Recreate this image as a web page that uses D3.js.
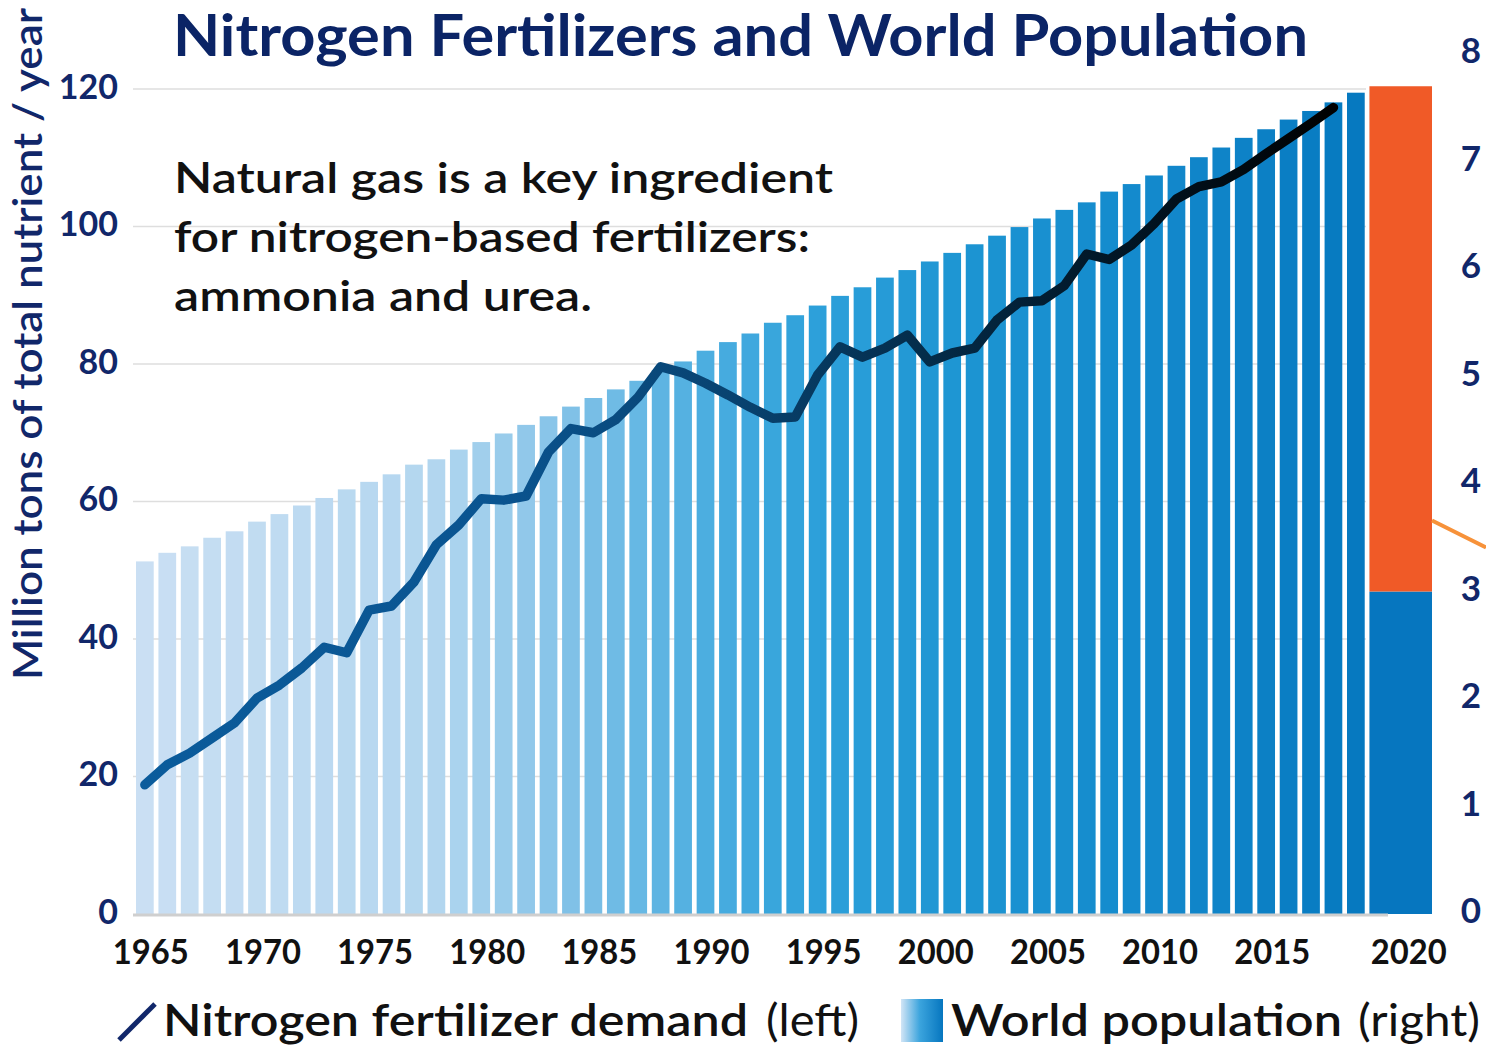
<!DOCTYPE html>
<html>
<head>
<meta charset="utf-8">
<script src="https://cdn.jsdelivr.net/npm/d3@7"></script>
<style>
  body { margin: 0; background: #fff; }
  svg { display: block; font-family: Lato, "Open Sans", sans-serif; }
</style>
</head>
<body>
<div id="chart"></div>
<script>
// ---- data ----
const years = d3.range(1965, 2020);
// world population, billions (right axis)
const population = [
  3.28, 3.36, 3.42, 3.50, 3.56, 3.65, 3.72, 3.80, 3.87, 3.95,
  4.02, 4.09, 4.18, 4.23, 4.32, 4.39, 4.47, 4.55, 4.63, 4.72,
  4.80, 4.88, 4.96, 5.06, 5.14, 5.24, 5.32, 5.40, 5.50, 5.57,
  5.66, 5.75, 5.83, 5.92, 5.99, 6.07, 6.15, 6.23, 6.31, 6.39,
  6.47, 6.55, 6.62, 6.72, 6.79, 6.87, 6.96, 7.04, 7.13, 7.22,
  7.30, 7.39, 7.47, 7.55, 7.64
];
// nitrogen fertilizer demand, million tons / year (left axis), 1965-2018
const demandYears = d3.range(1965, 2019);
const demand = [
  18.8, 21.7, 23.4, 25.6, 27.8, 31.4, 33.3, 35.8, 38.8, 38.0,
  44.2, 44.8, 48.3, 53.7, 56.6, 60.4, 60.2, 60.8, 67.2, 70.6,
  70.0, 71.9, 75.2, 79.6, 78.7, 77.2, 75.5, 73.7, 72.1, 72.3,
  78.4, 82.5, 81.0, 82.3, 84.2, 80.3, 81.6, 82.3, 86.4, 89.0,
  89.2, 91.4, 96.0, 95.2, 97.3, 100.4, 104.0, 105.8, 106.5, 108.3,
  110.6, 112.8, 115.0, 117.3
];
// 2020 bar: lower (blue) and upper (orange) part, billions
const pop2020Parts = [3.0, 4.7];
const calloutValue = 3.66;

const leftTicks = [0, 20, 40, 60, 80, 100, 120];
const rightTicks = [0, 1, 2, 3, 4, 5, 6, 7, 8];
const yearTicks = [1965, 1970, 1975, 1980, 1985, 1990, 1995, 2000, 2005, 2010, 2015, 2020];

const title = "Nitrogen Fertilizers and World Population";
const leftLabel = "Million tons of total nutrient / year";
const note = ["Natural gas is a key ingredient", "for nitrogen-based fertilizers:", "ammonia and urea."];

// ---- layout ----
const W = 1486, H = 1053;
const navy = "#11276a";

const svg = d3.select("#chart").append("svg")
  .attr("width", W)
  .attr("height", H);

const slots = d3.range(1965, 2023);
const x = d3.scaleBand()
  .domain(slots)
  .range([136, 1432])
  .paddingInner(0.21)
  .paddingOuter(0);

const yL = d3.scaleLinear().domain([0, 120]).range([914, 89]);
const yR = d3.scaleLinear().domain([0, 8]).range([914, 54]);

const barColor = d3.scaleLinear()
  .domain([1965, 1978, 1985, 1990, 1995, 2002, 2010, 2019])
  .range(["#cadff3", "#b2d6ef", "#78bee6", "#4caee0", "#2da0da", "#1c94d2", "#1389cc", "#0679c0"]);

const defs = svg.append("defs");

// fit a text to a target width
function fit(sel, width) {
  const w = sel.node().getComputedTextLength();
  if (Math.abs(w - width) > 2) {
    sel.attr("textLength", width).attr("lengthAdjust", "spacingAndGlyphs");
  }
}

// gridlines
svg.append("g")
  .selectAll("line")
  .data(leftTicks.filter(d => d > 0))
  .enter().append("line")
  .attr("x1", 133)
  .attr("x2", 1366)
  .attr("y1", d => yL(d))
  .attr("y2", d => yL(d))
  .style("stroke", "#dedede")
  .style("stroke-width", 1.5);

// population bars
svg.append("g")
  .selectAll("rect")
  .data(years)
  .enter().append("rect")
  .attr("x", d => x(d))
  .attr("width", x.bandwidth())
  .attr("y", (d, i) => yR(population[i]))
  .attr("height", (d, i) => yR(0) - yR(population[i]))
  .style("fill", d => barColor(d));

// 2020 bar
const x20 = x(2020), w20 = x(2022) + x.bandwidth() - x(2020);
svg.append("rect")
  .attr("x", x20)
  .attr("width", w20)
  .attr("y", yR(pop2020Parts[0]))
  .attr("height", yR(0) - yR(pop2020Parts[0]))
  .style("fill", "#0676bf");
svg.append("rect")
  .attr("x", x20)
  .attr("width", w20)
  .attr("y", yR(pop2020Parts[0] + pop2020Parts[1]))
  .attr("height", yR(pop2020Parts[0]) - yR(pop2020Parts[0] + pop2020Parts[1]))
  .style("fill", "#f05a27");

// callout line leaving to the right
svg.append("line")
  .attr("x1", x20 + w20)
  .attr("y1", yR(calloutValue))
  .attr("x2", W)
  .attr("y2", yR(calloutValue) + (W - x20 - w20) * 0.5)
  .style("stroke", "#f7923a")
  .style("stroke-width", 4);

// baseline
svg.append("line")
  .attr("x1", 133)
  .attr("x2", 1388)
  .attr("y1", yL(0) + 1)
  .attr("y2", yL(0) + 1)
  .style("stroke", "#cfcfcf")
  .style("stroke-width", 3);

// demand line with blue -> black gradient
const lineGrad = defs.append("linearGradient")
  .attr("id", "lineGrad")
  .attr("gradientUnits", "userSpaceOnUse")
  .attr("x1", x(1965)).attr("x2", x(2018) + x.bandwidth())
  .attr("y1", 0).attr("y2", 0);
[["0%", "#0b5c9c"], ["30%", "#0a5490"], ["50%", "#08426f"], ["65%", "#042d4b"], ["78%", "#021a2c"], ["100%", "#000000"]]
  .forEach(([o, c]) => lineGrad.append("stop").attr("offset", o).attr("stop-color", c));

const line = d3.line()
  .x((d, i) => x(demandYears[i]) + x.bandwidth() / 2)
  .y(d => yL(d));

svg.append("path")
  .datum(demand)
  .attr("d", line)
  .style("fill", "none")
  .style("stroke", "url(#lineGrad)")
  .style("stroke-width", 9.5)
  .style("stroke-linejoin", "round")
  .style("stroke-linecap", "round");

// left tick labels
svg.append("g")
  .selectAll("text")
  .data(leftTicks)
  .enter().append("text")
  .attr("x", 118)
  .attr("y", d => yL(d) - 2)
  .attr("dy", "0.35em")
  .attr("text-anchor", "end")
  .style("font-size", "34px")
  .style("font-weight", 700)
  .style("fill", navy)
  .text(d => d);

// right tick labels
svg.append("g")
  .selectAll("text")
  .data(rightTicks)
  .enter().append("text")
  .attr("x", 1471)
  .attr("y", d => yR(d) - 3)
  .attr("dy", "0.35em")
  .attr("text-anchor", "middle")
  .style("font-size", "35px")
  .style("font-weight", 700)
  .style("fill", navy)
  .text(d => d);

// x tick labels
svg.append("g")
  .selectAll("text")
  .data(yearTicks)
  .enter().append("text")
  .attr("x", d => d === 2020 ? x20 + w20 / 2 + 8 : x(d) + x.bandwidth() / 2 + 6)
  .attr("y", 964)
  .attr("text-anchor", "middle")
  .style("font-size", "35px")
  .style("font-weight", 700)
  .style("fill", "#111")
  .text(d => d)
  .each(function () { fit(d3.select(this), 76); });

// left axis title
const yt = svg.append("text")
  .attr("transform", "translate(42, 344) rotate(-90)")
  .attr("text-anchor", "middle")
  .style("font-size", "40px")
  .style("font-weight", 600)
  .style("fill", navy)
  .text(leftLabel);
fit(yt, 672);

// chart title
const tt = svg.append("text")
  .attr("x", 173)
  .attr("y", 56)
  .style("font-size", "58px")
  .style("font-weight", 700)
  .style("fill", "#0b2466")
  .text(title);
fit(tt, 1135);

// annotation
const noteWidths = [659, 636, 418];
note.forEach((t, i) => {
  const s = svg.append("text")
    .attr("x", 174)
    .attr("y", 193 + i * 59)
    .style("font-size", "42px")
    .style("font-weight", 600)
    .style("fill", "#111")
    .text(t);
  fit(s, noteWidths[i]);
});

// legend
svg.append("line")
  .attr("x1", 119).attr("y1", 1040)
  .attr("x2", 155).attr("y2", 1004)
  .style("stroke", navy)
  .style("stroke-width", 5);

const legGrad = defs.append("linearGradient").attr("id", "legGrad");
[["0%", "#d2e5f6"], ["45%", "#3ba4dd"], ["100%", "#0676bf"]]
  .forEach(([o, c]) => legGrad.append("stop").attr("offset", o).attr("stop-color", c));
svg.append("rect")
  .attr("x", 901).attr("y", 999)
  .attr("width", 42).attr("height", 43)
  .style("fill", "url(#legGrad)");

function legendText(xp, strong, weak, w1, w2, gap) {
  const a = svg.append("text")
    .attr("x", xp).attr("y", 1036)
    .style("font-size", "44px")
    .style("font-weight", 600)
    .style("fill", "#111")
    .text(strong);
  fit(a, w1);
  const b = svg.append("text")
    .attr("x", xp + w1 + gap).attr("y", 1036)
    .style("font-size", "44px")
    .style("font-weight", 400)
    .style("fill", "#111")
    .text(weak);
  fit(b, w2);
}
legendText(163, "Nitrogen fertilizer demand", "(left)", 585, 93, 18);
legendText(951, "World population", "(right)", 391, 122, 16);
</script>
</body>
</html>
